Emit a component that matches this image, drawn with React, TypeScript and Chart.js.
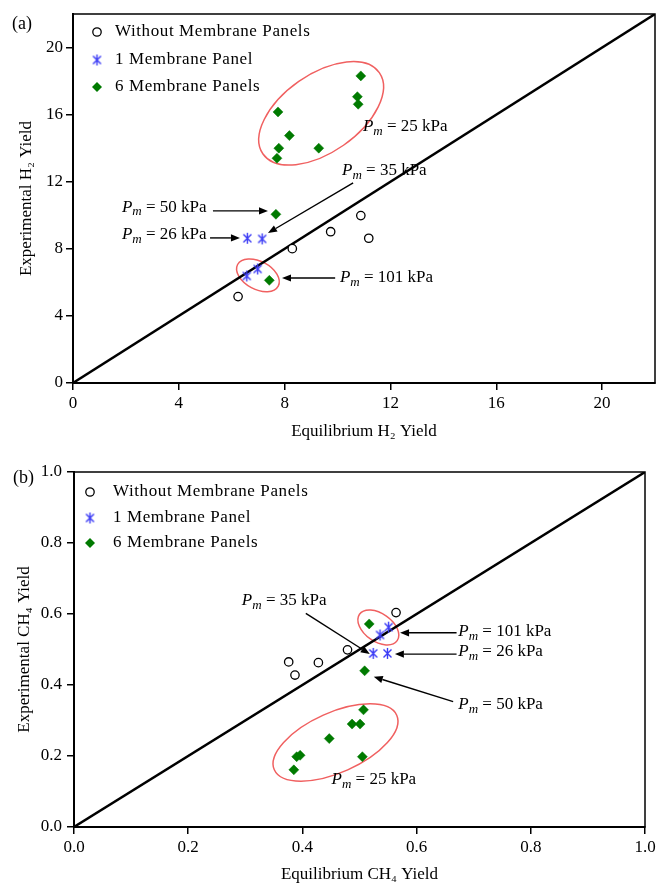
import React, { useEffect, useRef } from 'react';
import { Chart, registerables } from 'chart.js';

Chart.register(...registerables);

// ---------- Data ----------
const seriesLabels = ['Without Membrane Panels', '1 Membrane Panel', '6 Membrane Panels'];

// Panel (a): H2 yield
const h2NoPanelX = [6.24, 8.29, 9.74, 10.88, 11.18];
const h2NoPanelY = [5.15, 8.01, 9.02, 9.98, 8.63];
const h2OnePanelX = [6.59, 7.15, 6.57, 6.98];
const h2OnePanelY = [8.63, 8.59, 6.38, 6.8];
const h2SixPanelX = [10.88, 10.75, 10.78, 7.75, 8.18, 7.78, 7.71, 9.29, 7.67, 7.42];
const h2SixPanelY = [18.31, 17.07, 16.62, 16.16, 14.75, 14.0, 13.4, 14.0, 10.06, 6.12];
const h2Parity = [0, 22];

// Panel (b): CH4 yield
const ch4NoPanelX = [0.564, 0.479, 0.428, 0.376, 0.387];
const ch4NoPanelY = [0.604, 0.499, 0.463, 0.465, 0.428];
const ch4OnePanelX = [0.536, 0.551, 0.524, 0.549];
const ch4OnePanelY = [0.541, 0.563, 0.489, 0.489];
const ch4SixPanelX = [0.517, 0.509, 0.507, 0.487, 0.501, 0.447, 0.39, 0.396, 0.385, 0.505];
const ch4SixPanelY = [0.572, 0.44, 0.33, 0.29, 0.29, 0.249, 0.198, 0.202, 0.161, 0.198];
const ch4Parity = [0, 1];

// ---------- Styles ----------
const SERIF = '"Liberation Serif", "Times New Roman", "DejaVu Serif", serif';
const GREEN = '#007A00';
const BLUE = '#3A3AF5';
const RED = '#F06060';

function makeAsterisk(): HTMLCanvasElement {
  const c = document.createElement('canvas');
  c.width = 13;
  c.height = 13;
  const g = c.getContext('2d')!;
  g.strokeStyle = BLUE;
  g.lineWidth = 1.4;
  g.beginPath();
  g.moveTo(2.5, 2.5); g.lineTo(10.5, 10.5);
  g.moveTo(10.5, 2.5); g.lineTo(2.5, 10.5);
  g.moveTo(6.5, 1); g.lineTo(6.5, 12);
  g.stroke();
  return c;
}

type Note = { value: string; at: [number, number]; arrow?: [[number, number], [number, number]] };
type Ellipse = { c: [number, number]; rx: number; ry: number; deg: number };

type Spec = {
  height: number;
  padding: { top: number; right: number; bottom: number; left: number };
  yAxisWidth: number;
  xAxisHeight: number;
  max: number;
  step: number;
  decimals: number;
  xTitle: string;
  yTitle: string;
  xTitlePad: number;
  yTitlePad: number;
  yTickPad: number;
  series: { x: number[]; y: number[] }[];
  parity: number[];
  ellipses: Ellipse[];
  notes: Note[];
  legend: { dx: number; dys: number[]; textDx: number };
  label: string;
  labelPos: [number, number];
};

const specA: Spec = {
  height: 450,
  padding: { top: 14, right: 1, bottom: 0, left: 0 },
  yAxisWidth: 73,
  xAxisHeight: 67,
  max: 22,
  step: 4,
  decimals: 0,
  xTitle: 'Equilibrium H\u2082 Yield',
  yTitle: 'Experimental H\u2082 Yield',
  xTitlePad: 7.8,
  yTitlePad: 16.8,
  yTickPad: 3,
  series: [
    { x: h2NoPanelX, y: h2NoPanelY },
    { x: h2OnePanelX, y: h2OnePanelY },
    { x: h2SixPanelX, y: h2SixPanelY },
  ],
  parity: h2Parity,
  ellipses: [
    { c: [9.38, 16.08], rx: 71, ry: 39, deg: -35 },
    { c: [6.99, 6.42], rx: 23, ry: 14, deg: 28 },
  ],
  notes: [
    { value: '25', at: [10.96, 15.27] },
    { value: '35', at: [10.17, 12.64], arrow: [[10.59, 11.93], [7.37, 8.94]] },
    { value: '50', at: [1.85, 10.49], arrow: [[5.29, 10.26], [7.37, 10.26]] },
    { value: '26', at: [1.85, 8.83], arrow: [[5.18, 8.65], [6.31, 8.65]] },
    { value: '101', at: [10.09, 6.26], arrow: [[9.91, 6.26], [7.9, 6.26]] },
  ],
  legend: { dx: 24, dys: [18, 46, 73], textDx: 18 },
  label: '(a)',
  labelPos: [12, 24],
};

const specB: Spec = {
  height: 435,
  padding: { top: 22, right: 11, bottom: 0, left: 0 },
  yAxisWidth: 74,
  xAxisHeight: 58,
  max: 1,
  step: 0.2,
  decimals: 1,
  xTitle: 'Equilibrium CH\u2084 Yield',
  yTitle: 'Experimental CH\u2084 Yield',
  xTitlePad: 0,
  yTitlePad: 14.8,
  yTickPad: 5,
  series: [
    { x: ch4NoPanelX, y: ch4NoPanelY },
    { x: ch4OnePanelX, y: ch4OnePanelY },
    { x: ch4SixPanelX, y: ch4SixPanelY },
  ],
  parity: ch4Parity,
  ellipses: [
    { c: [0.458, 0.238], rx: 67, ry: 30, deg: -24 },
    { c: [0.533, 0.562], rx: 23, ry: 14, deg: 35 },
  ],
  notes: [
    { value: '35', at: [0.294, 0.639], arrow: [[0.406, 0.602], [0.518, 0.487]] },
    { value: '101', at: [0.673, 0.55], arrow: [[0.67, 0.547], [0.571, 0.547]] },
    { value: '26', at: [0.673, 0.494], arrow: [[0.67, 0.487], [0.562, 0.487]] },
    { value: '50', at: [0.673, 0.346], arrow: [[0.664, 0.353], [0.525, 0.423]] },
    { value: '25', at: [0.451, 0.134] },
  ],
  legend: { dx: 16, dys: [20, 46, 71], textDx: 23 },
  label: '(b)',
  labelPos: [13, 28],
};

// ---------- Drawing helpers ----------
function drawCircle(ctx: CanvasRenderingContext2D, x: number, y: number) {
  ctx.beginPath();
  ctx.arc(x, y, 4.2, 0, Math.PI * 2);
  ctx.fillStyle = '#fff';
  ctx.fill();
  ctx.lineWidth = 1.3;
  ctx.strokeStyle = '#000';
  ctx.stroke();
}

function drawDiamond(ctx: CanvasRenderingContext2D, x: number, y: number) {
  ctx.beginPath();
  ctx.moveTo(x - 5, y);
  ctx.lineTo(x, y - 5);
  ctx.lineTo(x + 5, y);
  ctx.lineTo(x, y + 5);
  ctx.closePath();
  ctx.fillStyle = GREEN;
  ctx.fill();
}

function drawArrow(ctx: CanvasRenderingContext2D, x1: number, y1: number, x2: number, y2: number) {
  const ang = Math.atan2(y2 - y1, x2 - x1);
  const hl = 9;
  const hw = 3.6;
  const bx = x2 - hl * Math.cos(ang);
  const by = y2 - hl * Math.sin(ang);
  ctx.strokeStyle = '#000';
  ctx.fillStyle = '#000';
  ctx.lineWidth = 1.4;
  ctx.beginPath();
  ctx.moveTo(x1, y1);
  ctx.lineTo(bx, by);
  ctx.stroke();
  ctx.beginPath();
  ctx.moveTo(x2, y2);
  ctx.lineTo(bx + hw * Math.sin(ang), by - hw * Math.cos(ang));
  ctx.lineTo(bx - hw * Math.sin(ang), by + hw * Math.cos(ang));
  ctx.closePath();
  ctx.fill();
}

function drawPm(ctx: CanvasRenderingContext2D, x: number, y: number, value: string) {
  ctx.fillStyle = '#000';
  ctx.textAlign = 'left';
  ctx.textBaseline = 'middle';
  ctx.font = `italic 17px ${SERIF}`;
  ctx.fillText('P', x, y);
  let w = ctx.measureText('P').width;
  ctx.font = `italic 13px ${SERIF}`;
  ctx.fillText('m', x + w, y + 5);
  w += ctx.measureText('m').width;
  ctx.font = `17px ${SERIF}`;
  ctx.fillText(` = ${value} kPa`, x + w, y);
}

function buildConfig(spec: Spec, asterisk: HTMLCanvasElement): any {
  const pts = (xs: number[], ys: number[]) => xs.map((x, i) => ({ x, y: ys[i] }));
  const font = { family: SERIF, size: 17 };

  const decor = {
    id: 'decor',
    beforeDatasetsDraw(chart: any) {
      const ctx = chart.ctx as CanvasRenderingContext2D;
      const xs = chart.scales.x;
      const ys = chart.scales.y;
      ctx.save();
      ctx.strokeStyle = RED;
      ctx.lineWidth = 1.5;
      spec.ellipses.forEach((e) => {
        ctx.beginPath();
        ctx.ellipse(
          xs.getPixelForValue(e.c[0]),
          ys.getPixelForValue(e.c[1]),
          e.rx,
          e.ry,
          (e.deg * Math.PI) / 180,
          0,
          Math.PI * 2
        );
        ctx.stroke();
      });
      ctx.restore();
    },
    afterDraw(chart: any) {
      const ctx = chart.ctx as CanvasRenderingContext2D;
      const xs = chart.scales.x;
      const ys = chart.scales.y;
      const area = chart.chartArea;
      ctx.save();
      // frame
      ctx.strokeStyle = '#000';
      ctx.lineWidth = 1.5;
      ctx.strokeRect(area.left, area.top, area.right - area.left, area.bottom - area.top);
      // notes
      spec.notes.forEach((n) => {
        drawPm(ctx, xs.getPixelForValue(n.at[0]), ys.getPixelForValue(n.at[1]), n.value);
        if (n.arrow) {
          drawArrow(
            ctx,
            xs.getPixelForValue(n.arrow[0][0]),
            ys.getPixelForValue(n.arrow[0][1]),
            xs.getPixelForValue(n.arrow[1][0]),
            ys.getPixelForValue(n.arrow[1][1])
          );
        }
      });
      // legend
      const lx = area.left + spec.legend.dx;
      spec.legend.dys.forEach((dy, i) => {
        const ly = area.top + dy;
        if (i === 0) drawCircle(ctx, lx, ly);
        else if (i === 1) ctx.drawImage(asterisk, lx - asterisk.width / 2, ly - asterisk.height / 2);
        else drawDiamond(ctx, lx, ly);
        ctx.fillStyle = '#000';
        ctx.font = `17px ${SERIF}`;
        ctx.textAlign = 'left';
        ctx.textBaseline = 'middle';
        (ctx as any).letterSpacing = '0.6px';
        ctx.fillText(seriesLabels[i], lx + spec.legend.textDx, ly);
        (ctx as any).letterSpacing = '0px';
      });
      // panel label
      ctx.font = `18px ${SERIF}`;
      ctx.fillStyle = '#000';
      ctx.textAlign = 'left';
      ctx.textBaseline = 'middle';
      ctx.fillText(spec.label, spec.labelPos[0], spec.labelPos[1]);
      ctx.restore();
    },
  };

  const axis = (isX: boolean) => ({
    type: 'linear',
    min: 0,
    max: spec.max,
    ticks: {
      stepSize: spec.step,
      includeBounds: false,
      font,
      color: '#000',
      padding: isX ? 3 : spec.yTickPad,
      maxRotation: 0,
      autoSkip: false,
      callback: (v: number) => Number(v).toFixed(spec.decimals),
    },
    grid: {
      drawOnChartArea: false,
      drawTicks: true,
      tickLength: 7,
      color: '#000',
      lineWidth: 1.5,
    },
    border: { display: true, color: '#000', width: 2 },
    title: {
      display: true,
      text: isX ? spec.xTitle : spec.yTitle,
      font,
      color: '#000',
      padding: isX ? { top: 0, bottom: spec.xTitlePad } : { top: spec.yTitlePad, bottom: 0 },
    },
    afterFit: (s: any) => {
      if (isX) s.height = spec.xAxisHeight;
      else s.width = spec.yAxisWidth;
      s.paddingLeft = 0;
      s.paddingRight = 0;
      s.paddingTop = 0;
      s.paddingBottom = 0;
    },
  });

  return {
    type: 'scatter',
    data: {
      datasets: [
        {
          label: seriesLabels[0],
          data: pts(spec.series[0].x, spec.series[0].y),
          pointStyle: 'circle',
          pointRadius: 4.2,
          borderColor: '#000',
          backgroundColor: '#fff',
          borderWidth: 1.3,
        },
        {
          label: seriesLabels[1],
          data: pts(spec.series[1].x, spec.series[1].y),
          pointStyle: asterisk,
          pointRadius: 6,
          borderColor: BLUE,
          backgroundColor: BLUE,
        },
        {
          label: seriesLabels[2],
          data: pts(spec.series[2].x, spec.series[2].y),
          pointStyle: 'rectRot',
          pointRadius: 5,
          borderColor: GREEN,
          backgroundColor: GREEN,
          borderWidth: 0.5,
        },
        {
          type: 'line',
          label: 'parity',
          data: pts(spec.parity, spec.parity),
          borderColor: '#000',
          borderWidth: 2.4,
          pointRadius: 0,
          showLine: true,
          fill: false,
        },
      ],
    },
    options: {
      responsive: false,
      maintainAspectRatio: false,
      animation: false,
      events: [],
      layout: { padding: spec.padding, autoPadding: false },
      plugins: { legend: { display: false }, tooltip: { enabled: false } },
      scales: { x: axis(true), y: axis(false) },
    },
    plugins: [decor],
  };
}

function Panel({ spec }: { spec: Spec }) {
  const ref = useRef<HTMLCanvasElement>(null);
  useEffect(() => {
    const canvas = ref.current;
    if (!canvas) return;
    const chart = new Chart(canvas, buildConfig(spec, makeAsterisk()));
    return () => chart.destroy();
  }, [spec]);
  return (
    <canvas
      ref={ref}
      width={656}
      height={spec.height}
      style={{ display: 'block', width: 656, height: spec.height }}
    />
  );
}

export default function App() {
  return (
    <div style={{ position: 'absolute', left: 0, top: 0, width: 656, height: 885, background: '#fff' }}>
      <Panel spec={specA} />
      <Panel spec={specB} />
    </div>
  );
}
